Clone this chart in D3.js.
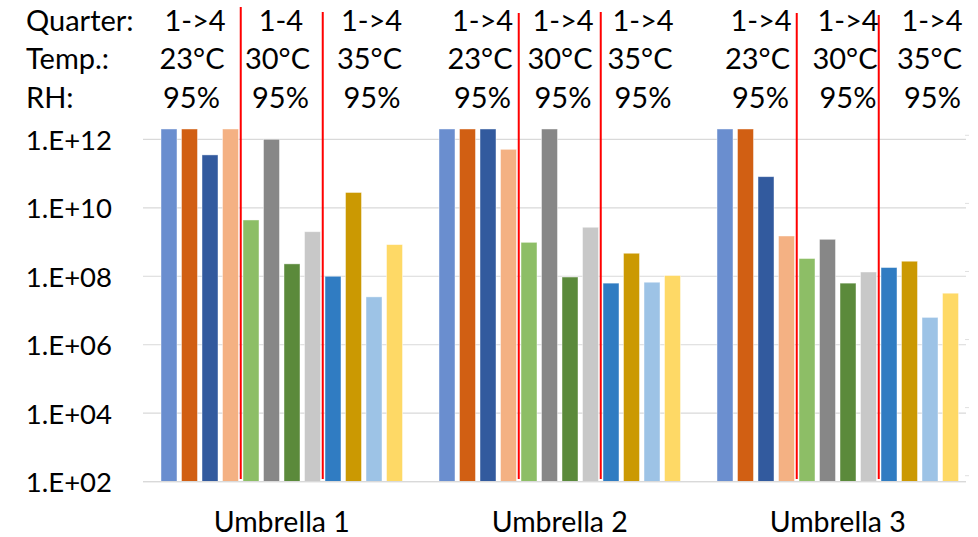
<!DOCTYPE html>
<html>
<head>
<meta charset="utf-8">
<script src="https://cdn.jsdelivr.net/npm/d3@7"></script>
<style>
  html, body { margin: 0; padding: 0; background: #fff; }
  svg { display: block; font-family: Lato, "Open Sans", sans-serif; }
</style>
</head>
<body>
<svg id="chart" width="978" height="537"></svg>
<script>
// Categories and the twelve series (three climate conditions x four quarters)
const categories = ["Umbrella 1", "Umbrella 2", "Umbrella 3"];
const seriesNames = [
  "23°C Q1", "23°C Q2", "23°C Q3", "23°C Q4",
  "30°C Q1", "30°C Q2", "30°C Q3", "30°C Q4",
  "35°C Q1", "35°C Q2", "35°C Q3", "35°C Q4"
];

// Values per umbrella, in series order
const umbrella1 = [2e12, 2e12, 3.5e11, 2e12, 4.4e9, 1.0e12, 2.3e8, 2.0e9, 1.0e8, 2.8e10, 2.5e7, 8.4e8];
const umbrella2 = [2e12, 2e12, 2e12, 5.1e11, 9.8e8, 2e12, 9.5e7, 2.7e9, 6.3e7, 4.7e8, 6.7e7, 1.05e8];
const umbrella3 = [2e12, 2e12, 8.1e10, 1.5e9, 3.3e8, 1.2e9, 6.3e7, 1.33e8, 1.8e8, 2.75e8, 6.3e6, 3.2e7];
const valuesByCategory = [umbrella1, umbrella2, umbrella3];

const seriesColors = [
  "#6A8ECF", "#D15F13", "#325A9E", "#F4B183",
  "#8DBE66", "#878787", "#5B8A3B", "#C8C8C8",
  "#307CC2", "#CB9902", "#9DC3E6", "#FED966"
];

// Axis ticks
const yTicks = [1e2, 1e4, 1e6, 1e8, 1e10, 1e12];

// Header rows drawn above each group of four bars
const rowTitles = ["Quarter:", "Temp.:", "RH:"];
const quarterLabels = ["1->4", "1-4", "1->4", "1->4", "1->4", "1->4", "1->4", "1->4", "1->4"];
const tempLabels = ["23°C", "30°C", "35°C", "23°C", "30°C", "35°C", "23°C", "30°C", "35°C"];
const rhLabels = ["95%", "95%", "95%", "95%", "95%", "95%", "95%", "95%", "95%"];

// ---- layout ----
const plotLeft = 143, plotRight = 966;
const yTop = 139.3, yBottom = 481.7;
const headerX = [
  [195, 281, 371.5, 482.5, 563, 643, 761, 848, 932],   // quarter row
  [192, 277.5, 369.5, 480, 560, 640, 757.5, 845, 929.5], // temperature row
  [191.5, 280.5, 372, 482.5, 563, 643, 760.5, 848, 932.5] // humidity row
];
const headerBaselines = [31, 69, 108.3];
const dividerTops = [7, 12, 13, 12, 13, 15];

const svg = d3.select("#chart");

const x0 = d3.scaleBand()
  .domain(categories)
  .range([142.75, 976.75])
  .paddingInner(0)
  .paddingOuter(0);

const x1 = d3.scaleBand()
  .domain(seriesNames)
  .range([0, x0.bandwidth()])
  .paddingInner(0.22)
  .paddingOuter(0.89);

const y = d3.scaleLog().domain([1e2, 1e12]).range([yBottom, yTop]);
// secondary scale, only its tick marks show at the right edge
const y2 = d3.scaleLog().domain([1e2, 1e12]).range([475.7, 135.3]);

const fmt = v => "1.E+" + String(Math.round(Math.log10(v))).padStart(2, "0");

// gridlines
svg.append("g")
  .selectAll("line")
  .data(yTicks)
  .join("line")
  .attr("x1", plotLeft).attr("x2", plotRight)
  .attr("y1", d => y(d)).attr("y2", d => y(d))
  .attr("stroke", "#d9d9d9")
  .attr("stroke-width", 1.2);

// right-edge tick marks
svg.append("g")
  .selectAll("line")
  .data(yTicks)
  .join("line")
  .attr("x1", 965).attr("x2", 969)
  .attr("y1", d => y2(d)).attr("y2", d => y2(d))
  .attr("stroke", "#e0e0e0")
  .attr("stroke-width", 1);

// y axis labels
const yAxis = d3.axisLeft(y).tickValues(yTicks).tickFormat(fmt).tickSize(0).tickPadding(0);
const gy = svg.append("g").attr("transform", "translate(112,0)").call(yAxis);
gy.select(".domain").remove();
gy.selectAll("text")
  .attr("font-family", "Lato, sans-serif")
  .attr("font-size", 27.5)
  .attr("fill", "#000")
  .attr("dy", "0.36em");

// bars
const groups = svg.append("g")
  .selectAll("g")
  .data(categories)
  .join("g")
  .attr("transform", d => `translate(${x0(d)},0)`);

groups.selectAll("rect")
  .data((c, i) => valuesByCategory[i].map((v, j) => ({ s: seriesNames[j], v, j })))
  .join("rect")
  .attr("x", d => x1(d.s))
  .attr("width", x1.bandwidth())
  .attr("y", d => y(d.v))
  .attr("height", d => y(1e2) - y(d.v))
  .attr("fill", d => seriesColors[d.j])
  .attr("stroke", "#fff")
  .attr("stroke-opacity", 0.55)
  .attr("stroke-width", 0.8);

// baseline
svg.append("line")
  .attr("x1", plotLeft).attr("x2", plotRight)
  .attr("y1", yBottom).attr("y2", yBottom)
  .attr("stroke", "#d9d9d9")
  .attr("stroke-width", 1.2);

// red dividers between temperature blocks
const dividers = [];
categories.forEach(c => {
  const step = x1.step();
  const gap = step - x1.bandwidth();
  dividers.push(x0(c) + x1(seriesNames[4]) - gap / 2);
  dividers.push(x0(c) + x1(seriesNames[8]) - gap / 2);
});
svg.append("g")
  .selectAll("line")
  .data(dividers)
  .join("line")
  .attr("x1", d => d).attr("x2", d => d)
  .attr("y1", (d, i) => dividerTops[i])
  .attr("y2", 479)
  .attr("stroke", "#ff0000")
  .attr("stroke-width", 2);

// category labels
svg.append("g")
  .selectAll("text")
  .data(categories)
  .join("text")
  .attr("x", d => x0(d) + x0.bandwidth() / 2)
  .attr("y", 532)
  .attr("text-anchor", "middle")
  .attr("font-size", 28.5)
  .attr("fill", "#000")
  .text(d => d);

// header block
const header = svg.append("g").attr("font-size", 29).attr("fill", "#000");
header.selectAll("text.title")
  .data(rowTitles)
  .join("text")
  .attr("class", "title")
  .attr("x", 26)
  .attr("y", (d, i) => headerBaselines[i])
  .text(d => d);

[quarterLabels, tempLabels, rhLabels].forEach((row, r) => {
  header.append("g")
    .selectAll("text")
    .data(row)
    .join("text")
    .attr("x", (d, i) => headerX[r][i])
    .attr("y", headerBaselines[r])
    .attr("text-anchor", "middle")
    .text(d => d);
});
</script>
</body>
</html>
